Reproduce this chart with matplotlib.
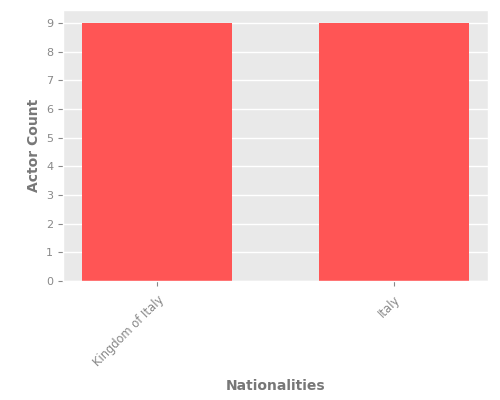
import matplotlib
matplotlib.use("Agg")
import matplotlib.pyplot as plt

nationalities = ["Kingdom of Italy", "Italy"]
counts = [9, 9]

plt.style.use("ggplot")
fig, ax = plt.subplots(figsize=(5, 4), dpi=100)
ax.set_facecolor("#E9E9E9")
ax.bar(nationalities, counts, color="#FF5555", width=0.635)
ax.grid(axis="x", visible=False)
ax.grid(axis="y", color="white", linewidth=1)
ax.set_yticks(range(0, 10))
ax.tick_params(colors="#888888", labelsize=8)
ax.tick_params(axis="x", labelsize=8.3, pad=5.5)
plt.setp(ax.get_xticklabels(), rotation=45, ha="right", va="top", rotation_mode="anchor")
ax.set_xlabel("Nationalities", color="#777777", fontsize=10, fontweight="bold", labelpad=7)
ax.set_ylabel("Actor Count", color="#777777", fontsize=10, fontweight="bold")
fig.subplots_adjust(left=0.126, right=0.976, top=0.975, bottom=0.2975)
fig.savefig("out.png", dpi=100)
